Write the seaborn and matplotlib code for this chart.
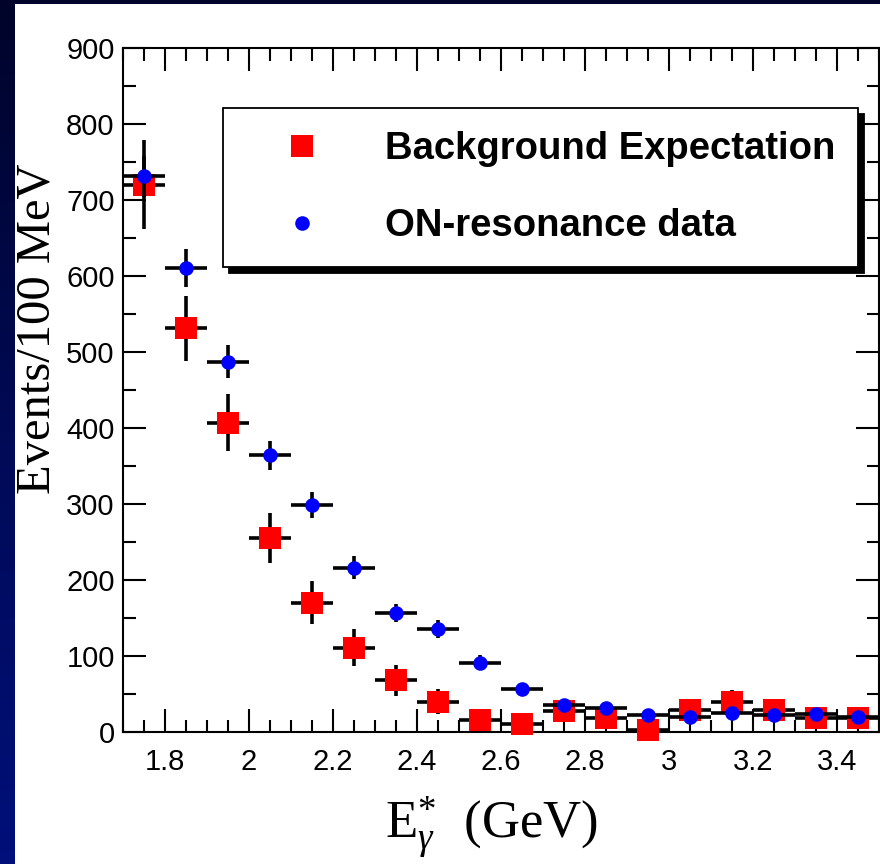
import numpy as np
import matplotlib
matplotlib.use("Agg")
import matplotlib.pyplot as plt
from matplotlib.lines import Line2D
from matplotlib.patches import Rectangle
from matplotlib.colors import LinearSegmentedColormap
from matplotlib.ticker import FixedLocator, MultipleLocator
import seaborn as sns

# Photon energy bins (GeV), 100 MeV wide
energy_centers = [1.75, 1.85, 1.95, 2.05, 2.15, 2.25, 2.35, 2.45, 2.55,
                  2.65, 2.75, 2.85, 2.95, 3.05, 3.15, 3.25, 3.35, 3.45]
bin_width = 0.1

# Expected background per bin
background = [720, 531, 407, 255, 170, 111, 68, 40, 16,
              11, 28, 18, 2, 29, 40, 29, 19, 19]
background_err = [58, 43, 37, 33, 28, 24, 20, 16, 14,
                  13, 14, 14, 13, 14, 15, 14, 14, 14]

# ON-resonance events per bin
on_resonance = [731, 610, 487, 364, 298, 216, 157, 135, 91,
                57, 35, 32, 22, 20, 25, 22, 24, 20]
on_resonance_err = [27, 25, 22, 19, 17, 15, 12, 12, 10,
                    8, 6, 6, 5, 5, 5, 5, 5, 5]

series_labels = ["Background Expectation", "ON-resonance data"]
x_ticks = [1.8, 2.0, 2.2, 2.4, 2.6, 2.8, 3.0, 3.2, 3.4]
x_tick_labels = ["1.8", "2", "2.2", "2.4", "2.6", "2.8", "3", "3.2", "3.4"]
y_ticks = [0, 100, 200, 300, 400, 500, 600, 700, 800, 900]

sns.set_theme(style="ticks")
plt.rcParams.update({
    "font.family": ["Liberation Sans", "DejaVu Sans"],
    "mathtext.fontset": "custom",
    "mathtext.rm": "Liberation Serif",
    "mathtext.it": "Liberation Serif:italic",
    "mathtext.bf": "Liberation Serif:bold",
    "axes.linewidth": 1.5,
})

W, H = 880, 864
fig = plt.figure(figsize=(W / 100, H / 100), dpi=100)

# dark blue slide backdrop with a soft vertical gradient
bg = fig.add_axes([0, 0, 1, 1], zorder=-10)
grad = np.linspace(0, 1, 256).reshape(-1, 1)
cmap = LinearSegmentedColormap.from_list("slide", ["#00042a", "#000a55", "#00107a"])
bg.imshow(grad, aspect="auto", cmap=cmap, extent=[0, 1, 0, 1], origin="upper")
bg.set_axis_off()

# white canvas of the plot
fig.add_artist(Rectangle((15 / W, 0), 1 - 15 / W, (H - 4) / H,
                         transform=fig.transFigure, facecolor="white",
                         edgecolor="none", zorder=-5))

ax = fig.add_axes([123 / W, 132 / H, 756 / W, 684.3 / H])
ax.set_facecolor("none")

half = bin_width / 2
ax.errorbar(energy_centers, background, xerr=half, yerr=background_err,
            fmt="none", ecolor="black", elinewidth=2.6, capsize=0, zorder=2)
sns.scatterplot(x=energy_centers, y=background, marker="s", s=16 ** 2,
                color="#ff0000", linewidth=0, ax=ax, zorder=3, legend=False)
ax.errorbar(energy_centers, on_resonance, xerr=half, yerr=on_resonance_err,
            fmt="none", ecolor="black", elinewidth=2.6, capsize=0, zorder=4)
sns.scatterplot(x=energy_centers, y=on_resonance, marker="o", s=10.5 ** 2,
                color="#0000ff", linewidth=0, ax=ax, zorder=5, legend=False)
for coll in ax.collections:
    coll.set_clip_on(False)

ax.set_xlim(1.7, 3.5)
ax.set_ylim(0, 900)
ax.xaxis.set_major_locator(FixedLocator(x_ticks))
ax.set_xticklabels(x_tick_labels)
ax.xaxis.set_minor_locator(MultipleLocator(0.05))
ax.set_yticks(y_ticks)
ax.yaxis.set_minor_locator(MultipleLocator(50))

for side in ["left", "right", "top", "bottom"]:
    ax.spines[side].set_visible(True)
    ax.spines[side].set_color("black")
    ax.spines[side].set_linewidth(1.5)

ax.tick_params(which="both", direction="in", top=True, right=True,
               color="black", width=1.5, labelcolor="black")
ax.tick_params(which="major", length=16.5, labelsize=21)
ax.tick_params(which="minor", length=9)
ax.tick_params(axis="y", which="major", pad=6)
ax.tick_params(axis="x", which="major", pad=11.5)

ax.set_xlabel(r"$\mathrm{E}^{*}_{\gamma}$  (GeV)", fontfamily="Liberation Serif",
              fontsize=38, color="black")
ax.xaxis.set_label_coords(0.487, -0.091)
ax.set_ylabel("Events/100 MeV", fontfamily="Liberation Serif", fontsize=35,
              color="black")
ax.yaxis.set_label_coords(-0.084, 0.589)

handles = [
    Line2D([], [], ls="none", marker="s", ms=16, color="#ff0000", mew=0),
    Line2D([], [], ls="none", marker="o", ms=10.5, color="#0000ff", mew=0),
]
leg = ax.legend(handles, series_labels, loc="upper left",
                bbox_to_anchor=(223 / W, (H - 108) / H),
                bbox_transform=fig.transFigure, borderaxespad=0,
                prop=dict(family="Liberation Sans", weight="bold", size=27.5),
                frameon=True, fancybox=False, framealpha=1,
                edgecolor="black", facecolor="white",
                borderpad=0.6, handlelength=2.94, handletextpad=0.70,
                labelspacing=1.08, numpoints=1,
                shadow={"ox": 4.3, "oy": -4.3, "color": "black", "alpha": 1})
leg.get_frame().set_linewidth(1.3)
for t in leg.get_texts():
    t.set_color("black")

fig.savefig("out.png", dpi=100)
